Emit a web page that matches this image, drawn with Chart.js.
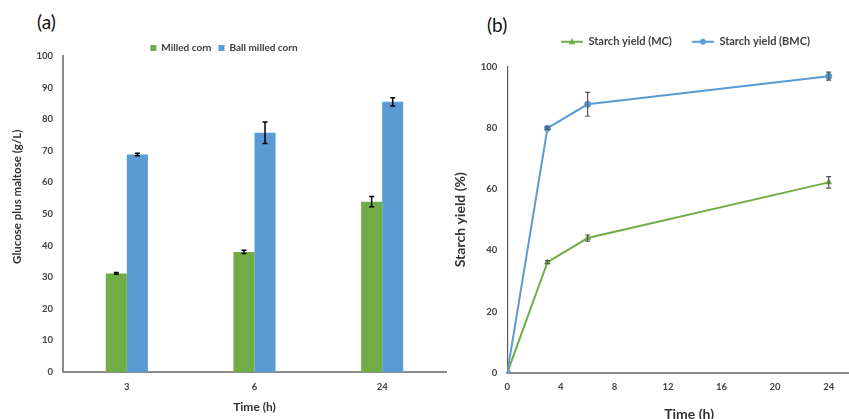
<!DOCTYPE html>
<html><head><meta charset="utf-8">
<script src="https://cdn.jsdelivr.net/npm/chart.js@4.4.1/dist/chart.umd.min.js"></script>
<style>
html,body{margin:0;padding:0;width:849px;height:419px;overflow:hidden;background:#fff;}
#ca{position:absolute;left:0;top:0;}
#cb{position:absolute;left:450px;top:0;}
.lab{position:absolute;font-family:Lato,'Liberation Sans',sans-serif;font-size:19px;color:#111;line-height:1;}
</style></head><body>
<div class="lab" style="left:37px;top:12px">(a)</div>
<div class="lab" style="left:487px;top:15px">(b)</div>
<canvas id="ca" width="450" height="419"></canvas>
<canvas id="cb" width="425" height="430"></canvas>
<script>
// ---- data (a) ----
const barCategories = ['3', '6', '24'];
const milledCorn = [31.2, 38.0, 53.9];
const milledCornErr = [0.3, 0.5, 1.6];
const ballMilledCorn = [68.8, 75.7, 85.5];
const ballMilledCornErr = [0.4, 3.4, 1.3];
const barYTicks = [0, 10, 20, 30, 40, 50, 60, 70, 80, 90, 100];

// ---- data (b) ----
const timeHours = [0, 3, 6, 24];
const starchYieldMC = [0, 36.1, 44.0, 62.2];
const starchYieldMCErr = [0, 0.5, 1.0, 1.9];
const starchYieldBMC = [0, 79.9, 87.7, 96.9];
const starchYieldBMCErr = [0, 0.4, 3.9, 1.3];
const lineXTicks = [0, 4, 8, 12, 16, 20, 24];
const lineYTicks = [0, 20, 40, 60, 80, 100];

const GREEN = '#70AD47', BLUE = '#5B9BD5';
const FONT = "Lato, 'Liberation Sans', sans-serif";

const errorBars = {
  id: 'errorBars',
  afterDatasetsDraw(chart) {
    const ctx = chart.ctx, yScale = chart.scales.y;
    chart.data.datasets.forEach((ds, di) => {
      if (!ds.errors) return;
      const meta = chart.getDatasetMeta(di);
      if (meta.hidden) return;
      ctx.save();
      ctx.strokeStyle = ds.errorColor || '#000';
      ctx.lineWidth = ds.errorWidth || 1.3;
      meta.data.forEach((el, i) => {
        const e = ds.errors[i];
        if (!e) return;
        const d = ds.data[i];
        const v = (typeof d === 'object') ? d.y : d;
        const x = el.x;
        const yt = yScale.getPixelForValue(v + e), yb = yScale.getPixelForValue(v - e);
        const c = ds.errorCap || 3;
        ctx.beginPath();
        ctx.moveTo(x, yt); ctx.lineTo(x, yb);
        ctx.moveTo(x - c, yt); ctx.lineTo(x + c, yt);
        ctx.moveTo(x - c, yb); ctx.lineTo(x + c, yb);
        ctx.stroke();
      });
      ctx.restore();
    });
  }
};

const legendShift = {
  id: 'legendShift',
  afterLayout(chart, args, opts) {
    const l = chart.legend;
    if (!l) return;
    const dx = opts.dx || 0, dy = opts.dy || 0;
    l.left += dx; l.right += dx; l.top += dy; l.bottom += dy;
  }
};

function legendMarker(color, shape) {
  const c = document.createElement('canvas');
  c.width = 30; c.height = 10;
  const x = c.getContext('2d');
  x.strokeStyle = color; x.lineWidth = 2;
  x.beginPath(); x.moveTo(4, 5); x.lineTo(26, 5); x.stroke();
  x.fillStyle = color; x.beginPath();
  if (shape === 'triangle') { x.moveTo(15, 1.5); x.lineTo(18.5, 7.5); x.lineTo(11.5, 7.5); x.closePath(); }
  else { x.arc(15, 5, 3, 0, Math.PI * 2); }
  x.fill();
  return c;
}

const noGrid = { display: false, drawTicks: false, tickLength: 0 };

// ---- chart (a) ----
new Chart(document.getElementById('ca'), {
  type: 'bar',
  data: {
    labels: barCategories,
    datasets: [
      { label: 'Milled corn', data: milledCorn, errors: milledCornErr, backgroundColor: GREEN,
        borderWidth: 0, errorColor: '#000', errorCap: 2.5, errorWidth: 1.5 },
      { label: 'Ball milled corn', data: ballMilledCorn, errors: ballMilledCornErr, backgroundColor: BLUE,
        borderWidth: 0, errorColor: '#000', errorCap: 2.5, errorWidth: 1.5 }
    ]
  },
  options: {
    responsive: false, animation: false, devicePixelRatio: 1,
    layout: { padding: { top: 29, right: 4, left: 0, bottom: 0 } },
    datasets: { bar: { categoryPercentage: 0.33, barPercentage: 1.0 } },
    plugins: {
      legend: {
        position: 'top',
        labels: { boxWidth: 6, boxHeight: 6, padding: 7, color: '#404040',
          font: { family: FONT, size: 10, weight: 'bold' } }
      },
      legendShift: { dx: 1, dy: 7 },
      tooltip: { enabled: false }
    },
    scales: {
      x: {
        grid: noGrid,
        border: { display: true, color: '#8c8c8c', width: 2 },
        ticks: { color: '#404040', padding: 9, font: { family: FONT, size: 9.5, weight: 'bold' } },
        title: { display: true, text: 'Time (h)', color: '#333', padding: { top: 0, bottom: 5 },
          font: { family: FONT, size: 12, weight: 'bold' } },
        afterFit(s) { s.height = 47; }
      },
      y: {
        min: 0, max: 100,
        grid: noGrid,
        border: { display: true, color: '#8c8c8c', width: 2 },
        ticks: { color: '#404040', padding: 10, stepSize: 10, font: { family: FONT, size: 9.5, weight: 'bold' } },
        afterBuildTicks(s) { s.ticks = barYTicks.map(v => ({ value: v })); },
        title: { display: true, text: '\u2003\u2003\u2003\u2003Glucose plus maltose (g/L)', color: '#333',
          padding: { top: 10, bottom: 0 }, font: { family: FONT, size: 11.5, weight: 'bold' } },
        afterFit(s) { s.width = 63; }
      }
    }
  },
  plugins: [errorBars, legendShift]
});

// ---- chart (b) ----
const markers = [legendMarker(GREEN, 'triangle'), legendMarker(BLUE, 'circle')];
new Chart(document.getElementById('cb'), {
  type: 'line',
  data: {
    datasets: [
      { label: 'Starch yield (MC)', data: timeHours.map((t, i) => ({ x: t, y: starchYieldMC[i] })),
        errors: starchYieldMCErr, borderColor: GREEN, backgroundColor: GREEN, borderWidth: 2,
        pointStyle: 'triangle', pointRadius: 4, pointBorderWidth: 0, tension: 0, order: 1,
        errorColor: '#555', errorCap: 2.5, errorWidth: 1.2 },
      { label: 'Starch yield (BMC)', data: timeHours.map((t, i) => ({ x: t, y: starchYieldBMC[i] })),
        errors: starchYieldBMCErr, borderColor: BLUE, backgroundColor: BLUE, borderWidth: 2,
        pointStyle: 'circle', pointRadius: 3.5, pointBorderWidth: 0, tension: 0, order: 0,
        errorColor: '#555', errorCap: 2.5, errorWidth: 1.2 }
    ]
  },
  options: {
    responsive: false, animation: false, devicePixelRatio: 1,
    layout: { padding: { top: 25.7, right: 0, left: 0, bottom: 0 } },
    plugins: {
      legend: {
        position: 'top',
        labels: {
          usePointStyle: true, pointStyleWidth: 22, padding: 20, color: '#404040',
          font: { family: FONT, size: 11, weight: 'bold' },
          sort: (a, b) => a.datasetIndex - b.datasetIndex,
          generateLabels(chart) {
            const items = Chart.defaults.plugins.legend.labels.generateLabels(chart);
            items.forEach(it => { it.pointStyle = markers[it.datasetIndex]; });
            return items;
          }
        }
      },
      legendShift: { dx: 23, dy: -9.5 },
      tooltip: { enabled: false }
    },
    scales: {
      x: {
        type: 'linear', min: 0, max: 27.16,
        grid: noGrid,
        border: { display: true, color: '#8c8c8c', width: 2 },
        ticks: { color: '#404040', padding: 9, stepSize: 4, font: { family: FONT, size: 9.5, weight: 'bold' } },
        afterBuildTicks(s) { s.ticks = lineXTicks.map(v => ({ value: v })); },
        title: { display: true, text: 'Time (h)', color: '#333', padding: { top: 0, bottom: 7.5 },
          font: { family: FONT, size: 14, weight: 'bold' } },
        afterFit(s) { s.height = 57.3; }
      },
      y: {
        min: 0, max: 100,
        grid: noGrid,
        border: { display: true, color: '#595959', width: 1.2 },
        ticks: { color: '#404040', padding: 10, stepSize: 20, font: { family: FONT, size: 9.5, weight: 'bold' } },
        afterBuildTicks(s) { s.ticks = lineYTicks.map(v => ({ value: v })); },
        title: { display: true, text: 'Starch yield (%)', color: '#333',
          padding: { top: 2, bottom: 0 }, font: { family: FONT, size: 14, weight: 'bold' } },
        afterFit(s) { s.width = 57.3; }
      }
    }
  },
  plugins: [errorBars, legendShift]
});
</script>
</body></html>
